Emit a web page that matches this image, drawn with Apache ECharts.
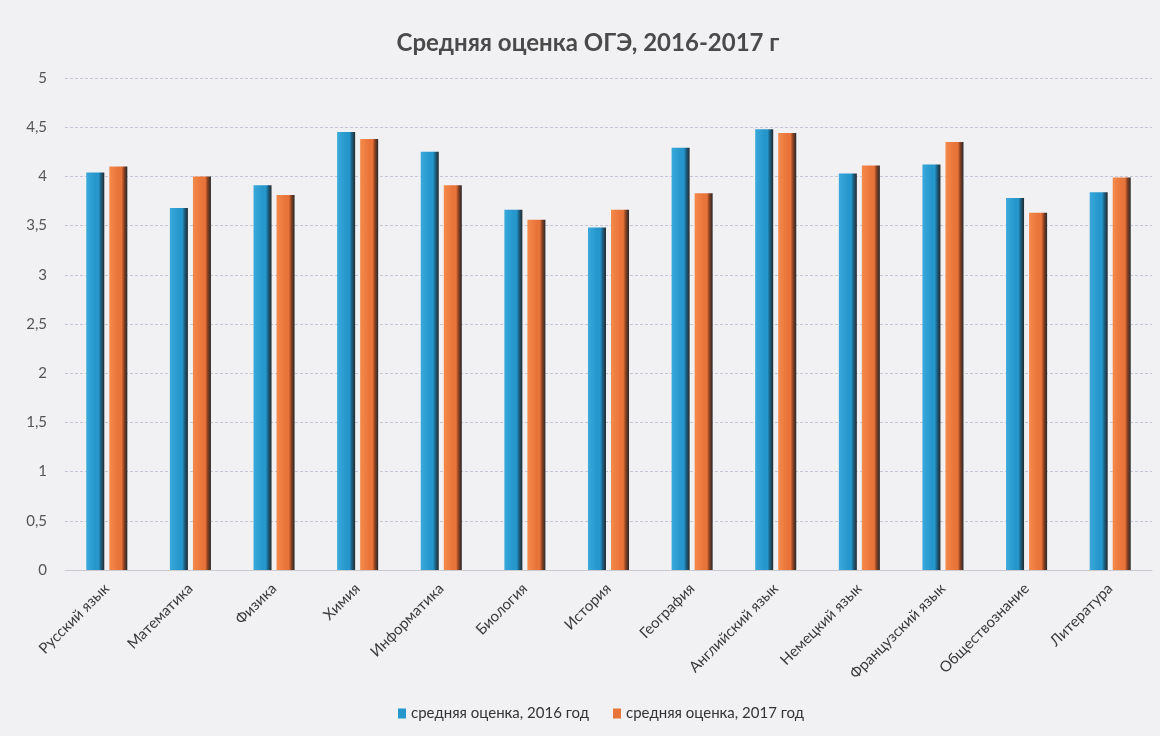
<!DOCTYPE html>
<html>
<head>
<meta charset="utf-8">
<title>Средняя оценка ОГЭ, 2016-2017 г</title>
<script src="https://cdn.jsdelivr.net/npm/echarts@6/dist/echarts.min.js"></script>
<style>
html, body { margin: 0; padding: 0; background: #f1f1f3; }
#chart { width: 1160px; height: 736px; }
</style>
</head>
<body>
<div id="chart"></div>
<script>
// предметы
const subjects = ['Русский язык', 'Математика', 'Физика', 'Химия', 'Информатика', 'Биология',
  'История', 'География', 'Английский язык', 'Немецкий язык', 'Французский язык',
  'Обществознание', 'Литература']
// средняя оценка по годам
const score2016 = [4.04, 3.68, 3.91, 4.45, 4.25, 3.66, 3.48, 4.29, 4.48, 4.03, 4.12, 3.78, 3.84]
const score2017 = [4.10, 4.00, 3.81, 4.38, 3.91, 3.56, 3.66, 3.83, 4.44, 4.11, 4.35, 3.63, 3.99]
const seriesNames = ['средняя оценка, 2016 год', 'средняя оценка, 2017 год']

const font = 'Lato, "Open Sans", sans-serif'

// цилиндрический вид столбиков — градиент слева направо
function barColor(light, main, dark) {
  return new echarts.graphic.LinearGradient(0, 0, 1, 0, [
    { offset: 0, color: light },
    { offset: 0.5, color: main },
    { offset: 0.68, color: main },
    { offset: 0.82, color: dark },
    { offset: 1, color: '#25292c' }
  ])
}

const myChart = echarts.init(document.getElementById('chart'))
const option = {
  backgroundColor: '#f1f1f3',
  title: {
    text: 'Средняя оценка ОГЭ, 2016-2017 г',
    left: 583,
    top: 26,
    textAlign: 'center',
    textStyle: { fontFamily: font, fontSize: 24, fontWeight: 'bold', color: '#4a4a4a' }
  },
  legend: {
    bottom: 10,
    left: 393,
    itemWidth: 8,
    itemHeight: 10,
    itemGap: 24,
    icon: 'rect',
    textStyle: { fontFamily: font, fontSize: 15, color: '#333' },
    data: [
      { name: seriesNames[0], itemStyle: { color: '#2697cc' } },
      { name: seriesNames[1], itemStyle: { color: '#e9743a' } }
    ]
  },
  // отступы области построения
  grid: {
    left: 65,
    right: 8,
    top: 78,
    bottom: 166
  },
  xAxis: {
    type: 'category',
    data: subjects,
    axisTick: { show: false },
    axisLine: { lineStyle: { color: '#c9c9cf', width: 1 } },
    axisLabel: {
      rotate: 45,
      interval: 0,
      margin: 16,
      fontFamily: font,
      fontSize: 15,
      color: '#3a3a3a'
    }
  },
  yAxis: {
    type: 'value',
    min: 0,
    max: 5,
    interval: 0.5,
    axisLine: { show: false },
    axisTick: { show: false },
    axisLabel: {
      margin: 18,
      fontFamily: font,
      fontSize: 15,
      color: '#555',
      formatter: (v) => String(v).replace('.', ',')
    },
    splitLine: {
      lineStyle: { color: '#c5c7d6', type: [3, 2], width: 1 }
    }
  },
  series: [
    {
      name: seriesNames[0],
      type: 'bar',
      data: score2016,
      barWidth: 18,
      barGap: '28%',
      itemStyle: { color: barColor('#3aa9dc', '#2697cc', '#1b5e80') }
    },
    {
      name: seriesNames[1],
      type: 'bar',
      data: score2017,
      barWidth: 18,
      itemStyle: { color: barColor('#f48a4a', '#e9743a', '#8a4020') }
    }
  ]
}
myChart.setOption(option)
</script>
</body>
</html>
